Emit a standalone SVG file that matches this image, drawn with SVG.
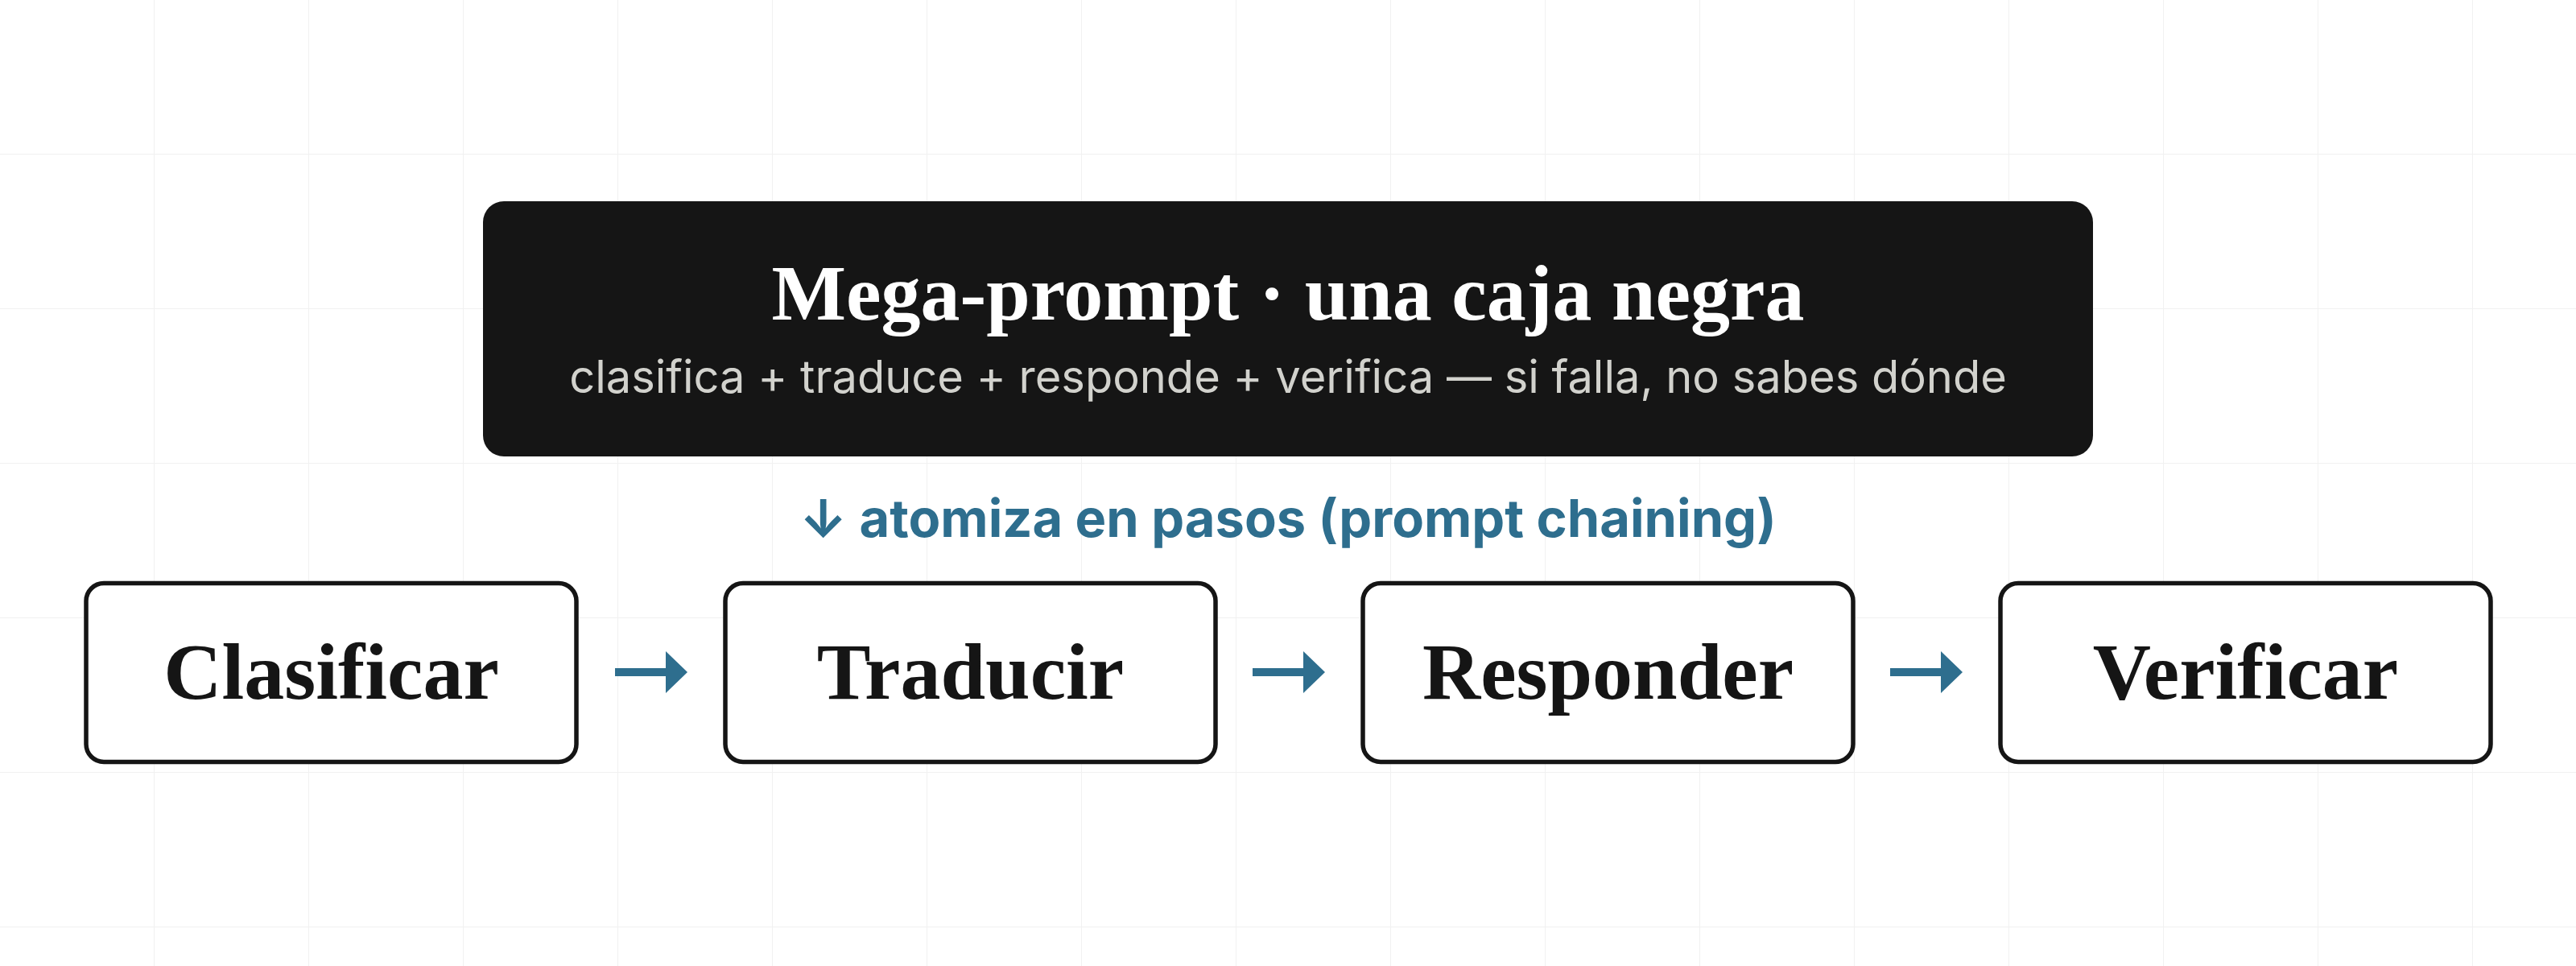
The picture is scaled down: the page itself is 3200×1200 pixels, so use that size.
<svg xmlns="http://www.w3.org/2000/svg" width="3200" height="1200" viewBox="0 0 3200 1200">
  <defs>
    <pattern id="grid" width="192" height="192" patternUnits="userSpaceOnUse">
      <path d="M192 0 V192 M0 192 H192" fill="none" stroke="#f1f1f1" stroke-width="2"/>
    </pattern>
    <marker id="arr" markerUnits="userSpaceOnUse" markerWidth="28" markerHeight="54" refX="0" refY="26" orient="auto">
      <path d="M0 0 L27 26 L0 52 Z" fill="#2e6e8e"/>
    </marker>
  </defs>
  <style>
    .title { font-family: "Liberation Serif", "DejaVu Serif", serif; font-weight: 700; font-size: 98px; fill: #ffffff; text-anchor: middle; }
    .sub { font-family: Inter, "Noto Sans", "Liberation Sans", sans-serif; font-size: 56px; fill: #d2d2cd; text-anchor: middle; }
    .note { font-family: Inter, "Noto Sans", "Liberation Sans", sans-serif; font-weight: 700; font-size: 65px; fill: #2e6e8e; text-anchor: middle; }
    .step rect { fill: #ffffff; stroke: #151515; stroke-width: 5.5; }
    .step text { font-family: "Liberation Serif", "DejaVu Serif", serif; font-weight: 700; font-size: 100px; fill: #151515; text-anchor: middle; }
    .conn line { stroke: #2e6e8e; stroke-width: 10; }
  </style>
  <rect width="3200" height="1200" fill="#ffffff"/>
  <rect width="3200" height="1200" fill="url(#grid)"/>

  <g id="mega-prompt">
    <rect x="600" y="250" width="2000" height="317" rx="26" ry="26" fill="#151515"/>
    <text class="title" x="1600" y="397">Mega-prompt · una caja negra</text>
    <text class="sub" x="1600" y="488">clasifica + traduce + responde + verifica — si falla, no sabes dónde</text>
  </g>

  <g id="note">
    <text class="note" x="1600" y="667">↓ atomiza en pasos (prompt chaining)</text>
  </g>

  <g id="clasificar" class="step">
    <rect x="107" y="724.5" width="609" height="222" rx="22" ry="22"/>
    <text x="411.5" y="868">Clasificar</text>
  </g>
  <g id="traducir" class="step">
    <rect x="901" y="724.5" width="609" height="222" rx="22" ry="22"/>
    <text x="1205.5" y="868">Traducir</text>
  </g>
  <g id="responder" class="step">
    <rect x="1693" y="724.5" width="609" height="222" rx="22" ry="22"/>
    <text x="1997.5" y="868">Responder</text>
  </g>
  <g id="verificar" class="step">
    <rect x="2485" y="724.5" width="609" height="222" rx="22" ry="22"/>
    <text x="2789.5" y="868">Verificar</text>
  </g>

  <g id="connectors" class="conn">
    <line x1="764" y1="835" x2="827" y2="835" marker-end="url(#arr)"/>
    <line x1="1556" y1="835" x2="1619" y2="835" marker-end="url(#arr)"/>
    <line x1="2348" y1="835" x2="2411" y2="835" marker-end="url(#arr)"/>
  </g>
</svg>
